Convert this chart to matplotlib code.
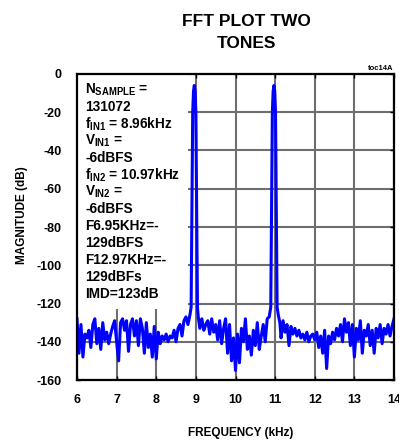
import matplotlib
matplotlib.use("Agg")
import matplotlib.pyplot as plt
from matplotlib.patches import Rectangle

plt.rcParams['font.family'] = ['Liberation Sans', 'DejaVu Sans']
plt.rcParams['font.weight'] = 'bold'
plt.rcParams['mathtext.fontset'] = 'custom'
plt.rcParams['mathtext.rm'] = 'Liberation Sans:bold'
plt.rcParams['mathtext.it'] = 'Liberation Sans:bold'
plt.rcParams['mathtext.bf'] = 'Liberation Sans:bold'

# ---- data (frequency in kHz, magnitude in dB) ----
freq_seg1 = [6.00, 6.05, 6.10, 6.15, 6.20, 6.25, 6.30, 6.35, 6.40, 6.45,
             6.50, 6.55, 6.60, 6.65, 6.70, 6.75, 6.80, 6.85, 6.90, 6.95,
             7.00, 7.05, 7.10, 7.15, 7.20, 7.25, 7.30, 7.35, 7.40, 7.45,
             7.50, 7.55, 7.60, 7.65, 7.70, 7.75, 7.80, 7.85, 7.90, 7.95,
             8.00, 8.05, 8.10, 8.15, 8.20, 8.25, 8.30, 8.35, 8.40, 8.45,
             8.50, 8.55, 8.60, 8.65, 8.70, 8.75, 8.80, 8.85]
mag_seg1 = [-128, -146, -131, -148, -136, -138, -134, -143, -131, -128,
            -141, -133, -144, -130, -139, -135, -141, -136, -132, -129,
            -140, -150, -130, -128, -134, -129, -145, -131, -128, -137,
            -129, -142, -128, -133, -146, -130, -143, -136, -148, -132,
            -149, -135, -141, -137, -139, -136, -140, -137, -138, -134,
            -140, -133, -131, -137, -129, -127, -131, -126]

freq_tone1 = [8.88, 8.90, 8.92, 8.94, 8.96, 8.98, 9.00, 9.02, 9.04]
mag_tone1 = [-122, -70, -20, -9, -6, -9, -20, -70, -122]

freq_seg2 = [9.06, 9.10, 9.15, 9.20, 9.25, 9.30, 9.35, 9.40, 9.45,
             9.50, 9.55, 9.60, 9.65, 9.70, 9.75, 9.80, 9.85, 9.90, 9.95,
             10.00, 10.05, 10.10, 10.15, 10.20, 10.25, 10.30, 10.35, 10.40,
             10.45, 10.50, 10.55, 10.60, 10.65, 10.70, 10.75, 10.80, 10.85]
mag_seg2 = [-127, -133, -128, -134, -131, -129, -136, -128, -135,
            -131, -139, -129, -141, -133, -128, -146, -131, -150, -138,
            -155, -136, -151, -133, -140, -128, -144, -137, -147,
            -134, -142, -130, -144, -137, -131, -140, -128, -127]

freq_tone2 = [10.89, 10.91, 10.93, 10.95, 10.97, 10.99, 11.01, 11.03, 11.05]
mag_tone2 = [-122, -70, -20, -9, -6, -9, -20, -70, -122]

freq_seg3 = [11.08, 11.12, 11.15, 11.20, 11.25, 11.30, 11.35, 11.40, 11.45,
             11.50, 11.55, 11.60, 11.65, 11.70, 11.75, 11.80, 11.85, 11.90,
             11.95, 12.00, 12.05, 12.10, 12.15, 12.20, 12.25, 12.30, 12.35,
             12.40, 12.45, 12.50, 12.55, 12.60, 12.65, 12.70, 12.75, 12.80,
             12.85, 12.90, 12.95, 13.00, 13.05, 13.10, 13.15, 13.20, 13.25,
             13.30, 13.35, 13.40, 13.45, 13.50, 13.55, 13.60, 13.65, 13.70,
             13.75, 13.80, 13.85, 13.90, 13.95, 14.00]
mag_seg3 = [-126, -130, -138, -129, -135, -131, -142, -132, -136,
            -133, -137, -134, -138, -136, -139, -135, -140, -137,
            -136, -139, -135, -143, -137, -146, -134, -154, -137,
            -141, -135, -139, -133, -137, -131, -140, -128, -135,
            -130, -142, -131, -148, -133, -139, -129, -146, -134,
            -137, -131, -142, -134, -146, -133, -138, -131, -141,
            -133, -136, -131, -137, -132, -128]

x_ticks = [6, 7, 8, 9, 10, 11, 12, 13, 14]
y_ticks = [0, -20, -40, -60, -80, -100, -120, -140, -160]

info_lines = [
    r"N$_{\rm SAMPLE}$ =",
    "131072",
    r"f$_{\rm IN1}$ = 8.96kHz",
    r"V$_{\rm IN1}$ =",
    "-6dBFS",
    r"f$_{\rm IN2}$ = 10.97kHz",
    r"V$_{\rm IN2}$ =",
    "-6dBFS",
    "F6.95KHz=-",
    "129dBFS",
    "F12.97KHz=-",
    "129dBFs",
    "IMD=123dB",
]

freq = freq_seg1 + freq_tone1 + freq_seg2 + freq_tone2 + freq_seg3
mag = mag_seg1 + mag_tone1 + mag_seg2 + mag_tone2 + mag_seg3

# ---- figure ----
W, H = 399, 440
fig = plt.figure(figsize=(W / 100, H / 100), dpi=100)
ax = fig.add_axes([77 / W, 1 - 380 / H, 317 / W, 306 / H])

ax.plot(freq, mag, color='#0000FF', lw=2.2, zorder=3,
        solid_joinstyle='round')

ax.set_xlim(6, 14)
ax.set_ylim(-160, 0)
ax.set_xticks(x_ticks)
ax.set_yticks(y_ticks)
ax.set_xticklabels([str(t) for t in x_ticks])
ax.set_yticklabels([str(t) for t in y_ticks])
ax.grid(True, color='#6e6e6e', lw=1.5, zorder=1)
ax.set_axisbelow(True)
ax.tick_params(direction='in', length=3, width=1, top=True, right=True,
               labelsize=9, pad=10)
ax.tick_params(axis='y', pad=11)
for lab in ax.get_xticklabels() + ax.get_yticklabels():
    lab.set_fontweight('bold')
for s in ax.spines.values():
    s.set_linewidth(1.6)
    s.set_zorder(5)

# white box behind the annotation text
ax.add_patch(Rectangle((0.0, 0.233), 0.35, 0.767, transform=ax.transAxes,
                       facecolor='white', edgecolor='none', zorder=2))

for i, line in enumerate(info_lines):
    y_px = 90 + 17.0 * i
    fig.text(85 / W, 1 - y_px / H, line, fontsize=9.8, fontweight='bold',
             ha='left', va='center', zorder=6)

fig.text(246 / W, 1 - 21 / H, "FFT PLOT TWO", fontsize=12.5,
         fontweight='bold', ha='center', va='center')
fig.text(246 / W, 1 - 43 / H, "TONES", fontsize=12.5,
         fontweight='bold', ha='center', va='center')
fig.text(393 / W, 1 - 68 / H, "toc14A", fontsize=5.5, fontweight='bold',
         ha='right', va='center')
fig.text(22 / W, 1 - 215 / H, "MAGNITUDE (dB)", fontsize=8.5,
         fontweight='bold', rotation=90, ha='center', va='center')
fig.text(241 / W, 1 - 433 / H, "FREQUENCY (kHz)", fontsize=8.5,
         fontweight='bold', ha='center', va='center')

fig.savefig("out.png", dpi=100)
